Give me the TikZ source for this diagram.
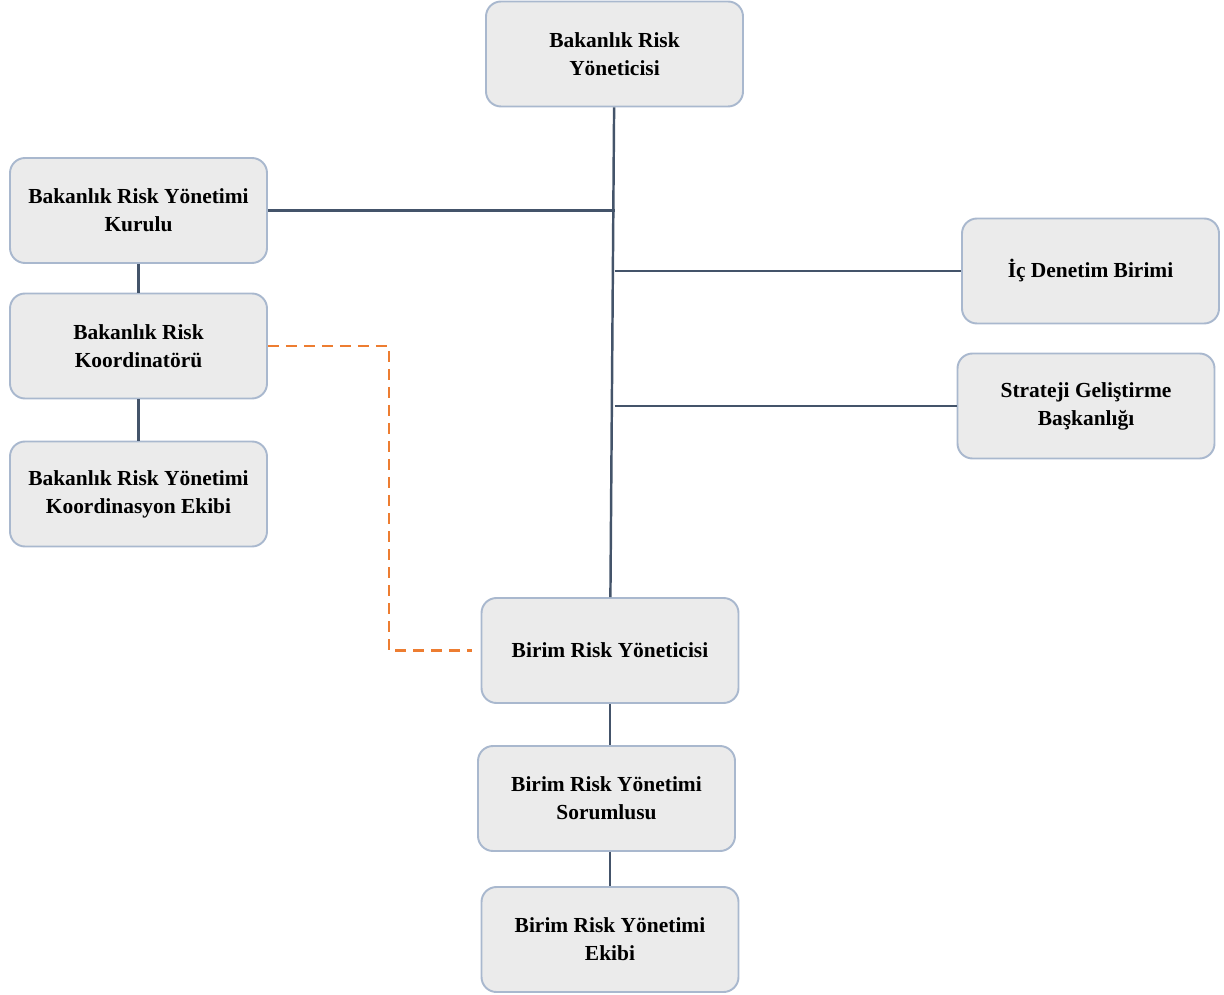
\documentclass[tikz,border=0pt]{standalone}
\usepackage{fontspec}
\setmainfont{Liberation Serif}
\usepackage{tikz}
\usetikzlibrary{calc,positioning}

\definecolor{boxfill}{HTML}{EBEBEB}
\definecolor{boxline}{HTML}{A9B8CE}
\definecolor{linkcol}{HTML}{44546A}
\definecolor{dashcol}{HTML}{ED7D31}

\begin{document}
\begin{tikzpicture}[
		box/.style={draw=boxline, line width=1.1pt, fill=boxfill, rounded corners=0.3cm,
			minimum width=5.14cm, minimum height=2.1cm, align=center,
			font=\fontsize{12.2}{16}\selectfont\bfseries},
		link/.style={draw=linkcol, line width=1.4pt},
		dashlink/.style={draw=dashcol, line width=1.6pt, dash pattern=on 0.22cm off 0.14cm}
	]
		\useasboundingbox (0,0) rectangle (24.48,-19.9);

		\node[box] (top) at (12.29,-1.08) {Bakanlık Risk\\Yöneticisi};
		\node[box] (kurul) at (2.77,-4.21) {Bakanlık Risk Yönetimi\\Kurulu};
		\node[box] (koord) at (2.77,-6.92) {Bakanlık Risk\\Koordinatörü};
		\node[box] (koordekip) at (2.77,-9.88) {Bakanlık Risk Yönetimi\\Koordinasyon Ekibi};
		\node[box] (icdenetim) at (21.81,-5.42) {İç Denetim Birimi};
		\node[box] (strateji) at (21.72,-8.12) {Strateji Geliştirme\\Başkanlığı};
		\node[box] (birim) at (12.20,-13.01) {Birim Risk Yöneticisi};
		\node[box] (sorumlu) at (12.13,-15.97) {Birim Risk Yönetimi\\Sorumlusu};
		\node[box] (birimekip) at (12.20,-18.79) {Birim Risk Yönetimi\\Ekibi};

		\draw[link] (top) -- (birim);
		\draw[link] (kurul) -- (kurul.east -| top.south);
		\draw[link] (icdenetim.west -| top.south) -- (icdenetim);
		\draw[link] (strateji.west -| top.south) -- (strateji);
		\draw[link] (kurul) -- (koord);
		\draw[link] (koord) -- (koordekip);
		\draw[link] (birim) -- (birim |- sorumlu.north);
		\draw[link] (sorumlu.south -| birimekip) -- (birimekip);

		\draw[dashlink, shorten >=0.18cm] (koord.east) -- ++(2.42,0) |- (birim.west);
	\end{tikzpicture}
\end{document}
